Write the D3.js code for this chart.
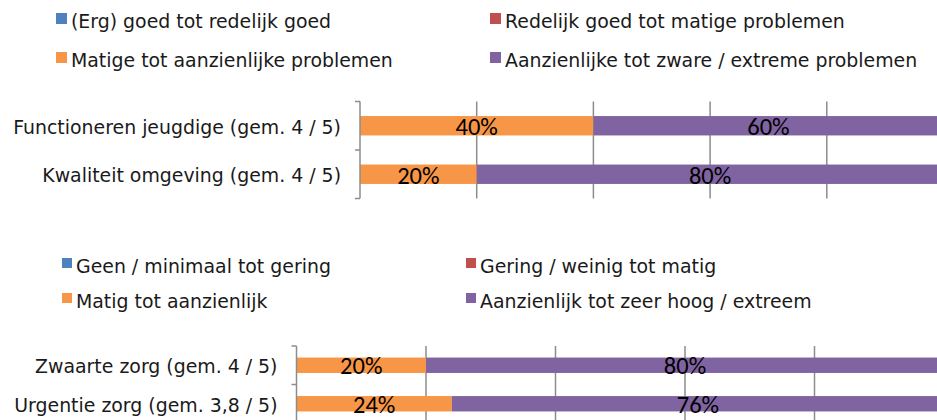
<!DOCTYPE html>
<html>
<head>
<meta charset="utf-8">
<script src="https://cdn.jsdelivr.net/npm/d3@7"></script>
<style>
  body { margin: 0; background: #fff; }
  svg { display: block; }
</style>
</head>
<body>
<div id="chart"></div>
<script>
// ------------------------------------------------------------
// Data
// ------------------------------------------------------------
const seriesColors = ["#4F81BD", "#C0504D", "#F79646", "#8064A2"];

// Chart 1 – problemen
const legend1 = [
    "(Erg) goed tot redelijk goed",
    "Redelijk goed tot matige problemen",
    "Matige tot aanzienlijke problemen",
    "Aanzienlijke tot zware / extreme problemen"
];
const categories1 = ["Functioneren jeugdige (gem. 4 / 5)", "Kwaliteit omgeving (gem. 4 / 5)"];
// one array per series, one value per category (percent)
const values1 = [
    [0, 0],
    [0, 0],
    [40, 20],
    [60, 80]
];

// Chart 2 – zorg
const legend2 = [
    "Geen / minimaal tot gering",
    "Gering / weinig tot matig",
    "Matig tot aanzienlijk",
    "Aanzienlijk tot zeer hoog / extreem"
];
const categories2 = ["Zwaarte zorg (gem. 4 / 5)", "Urgentie zorg (gem. 3,8 / 5)"];
const values2 = [
    [0, 0],
    [0, 0],
    [20, 24],
    [80, 76]
];

const xTicks = [0, 20, 40, 60, 80, 100];

// ------------------------------------------------------------
// Layout
// ------------------------------------------------------------
const width = 937, height = 420;
const svg = d3.select("#chart").append("svg")
    .attr("width", width)
    .attr("height", height);

const labelFont = "Verdana, 'DejaVu Sans', sans-serif";
const valueFont = "Carlito, 'Open Sans', sans-serif";

function drawChart(cfg) {
    const g = svg.append("g");

    // legend (2 x 2)
    cfg.legend.forEach((name, i) => {
        const col = i % 2, row = Math.floor(i / 2);
        const lx = cfg.legendX[col], ly = cfg.legendY[row];
        g.append("rect")
            .attr("x", lx)
            .attr("y", ly - cfg.sq / 2)
            .attr("width", cfg.sq)
            .attr("height", cfg.sq)
            .attr("fill", seriesColors[i]);
        g.append("text")
            .attr("x", lx + cfg.sq + 4)
            .attr("y", ly + cfg.legendBase)
            .style("font-family", labelFont)
            .style("font-size", cfg.fontSize + "px")
            .style("fill", "#1a1a1a")
            .text(name);
    });

    const x = d3.scaleLinear().domain([0, 100]).range([cfg.x0, cfg.x1]);
    const y = d3.scaleBand().domain(cfg.categories).range([cfg.y0, cfg.y1]).paddingInner(cfg.pad).paddingOuter(cfg.pad / 2);
    const yOuter = d3.scaleBand().domain(cfg.categories).range([cfg.y0, cfg.y1]);

    // gridlines
    g.append("g")
        .selectAll("line")
        .data(xTicks.filter(t => t > 0))
        .enter()
        .append("line")
        .attr("x1", d => x(d)).attr("x2", d => x(d))
        .attr("y1", cfg.y0).attr("y2", cfg.y1)
        .attr("stroke", "#8c8c8c")
        .attr("stroke-width", 1.5);

    // stacked bars
    const rows = cfg.categories.map((c, ci) => {
        let acc = 0;
        return cfg.values.map((s, si) => {
            const seg = { cat: c, series: si, v: s[ci], start: acc };
            acc += s[ci];
            return seg;
        });
    }).flat().filter(d => d.v > 0);

    g.append("g")
        .selectAll("rect")
        .data(rows)
        .enter()
        .append("rect")
        .attr("x", d => x(d.start))
        .attr("y", d => y(d.cat))
        .attr("width", d => x(d.start + d.v) - x(d.start))
        .attr("height", y.bandwidth())
        .attr("fill", d => seriesColors[d.series]);

    g.append("g")
        .selectAll("text")
        .data(rows)
        .enter()
        .append("text")
        .attr("x", d => x(d.start + d.v / 2))
        .attr("y", d => y(d.cat) + y.bandwidth() / 2 + cfg.valueBase)
        .attr("text-anchor", "middle")
        .style("font-family", valueFont)
        .style("font-size", cfg.valueSize + "px")
        .style("fill", "#000")
        .text(d => d.v + "%");

    // category axis (bracket)
    const axis = g.append("g");
    axis.append("line")
        .attr("x1", cfg.x0).attr("x2", cfg.x0)
        .attr("y1", cfg.y0).attr("y2", cfg.y1)
        .attr("stroke", "#8c8c8c").attr("stroke-width", 1.5);
    const bounds = [cfg.y0].concat(cfg.categories.map(c => yOuter(c) + yOuter.bandwidth()));
    axis.selectAll("line.tick")
        .data(bounds)
        .enter()
        .append("line")
        .attr("class", "tick")
        .attr("x1", cfg.x0 - 5).attr("x2", cfg.x0)
        .attr("y1", d => d).attr("y2", d => d)
        .attr("stroke", "#8c8c8c").attr("stroke-width", 1.5);

    axis.selectAll("text")
        .data(cfg.categories)
        .enter()
        .append("text")
        .attr("x", cfg.x0 - 19)
        .attr("y", d => y(d) + y.bandwidth() / 2 + cfg.catBase)
        .attr("text-anchor", "end")
        .style("font-family", labelFont)
        .style("font-size", cfg.fontSize + "px")
        .style("fill", "#1a1a1a")
        .text(d => d);
}

drawChart({
    legend: legend1, categories: categories1, values: values1,
    legendX: [56, 490], legendY: [18.5, 57.5], sq: 11, legendBase: 9.5,
    x0: 360, x1: 943.5, y0: 101.5, y1: 198.5, pad: 0.6,
    fontSize: 18.9, catBase: 7.8, valueSize: 24.5, valueBase: 9.5
});

drawChart({
    legend: legend2, categories: categories2, values: values2,
    legendX: [62, 466], legendY: [263, 298], sq: 10, legendBase: 9.5,
    x0: 296.5, x1: 944, y0: 346, y1: 423, pad: 0.6,
    fontSize: 18.9, catBase: 8, valueSize: 24.5, valueBase: 9
});
</script>
</body>
</html>
